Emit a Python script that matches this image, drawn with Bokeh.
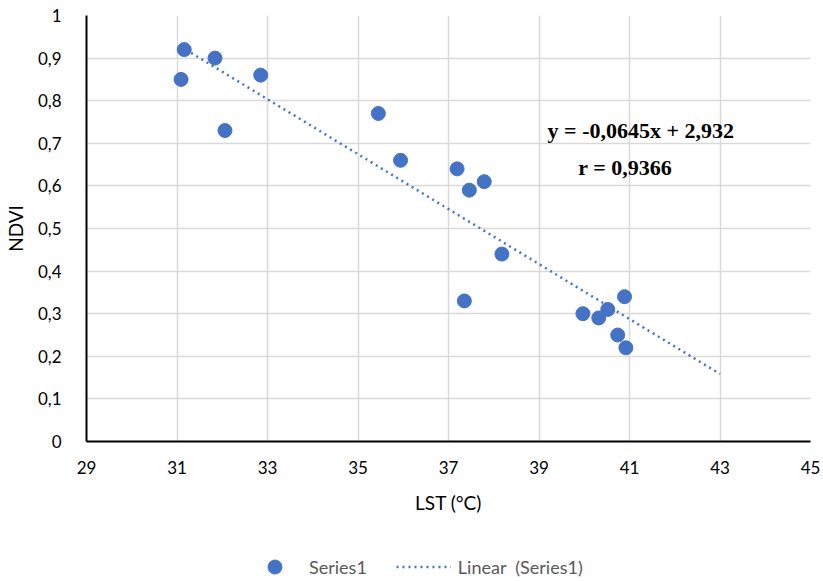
from bokeh.plotting import figure
from bokeh.layouts import column
from bokeh.models import (Legend, LegendItem, Label, FixedTicker,
                          CustomJSTickFormatter, Range1d)
from bokeh.embed import file_html
from bokeh.resources import INLINE

# ---- data ----
lst = [31.09, 31.16, 31.84, 32.06, 32.85, 35.45, 35.94, 37.19, 37.46, 37.79,
       38.18, 37.35, 39.97, 40.32, 40.52, 40.89, 40.74, 40.92]
ndvi = [0.85, 0.92, 0.90, 0.73, 0.86, 0.77, 0.66, 0.64, 0.59, 0.61,
        0.44, 0.33, 0.30, 0.29, 0.31, 0.34, 0.25, 0.22]
slope = -0.0645
intercept = 2.932
trend_x = [31.2, 43.0]
trend_y = [slope * x + intercept for x in trend_x]
x_ticks = [29, 31, 33, 35, 37, 39, 41, 43, 45]
y_ticks = [0, 0.1, 0.2, 0.3, 0.4, 0.5, 0.6, 0.7, 0.8, 0.9, 1.0]
eq_text = "y = -0,0645x + 2,932"
r_text = "r = 0,9366"
series_name = "Series1"
trend_name = "Linear \u00a0(Series1)"

BLUE = "#4472C4"
FONT = "Lato"
W = 820

p = figure(width=W, height=530, x_range=Range1d(29, 45), y_range=Range1d(0, 1),
           output_backend="svg", toolbar_location=None,
           min_border_left=86, min_border_right=W - 810, min_border_top=15,
           min_border_bottom=89)
p.outline_line_color = None
p.background_fill_color = "white"
p.border_fill_color = "white"

p.xaxis.ticker = FixedTicker(ticks=x_ticks)
p.yaxis.ticker = FixedTicker(ticks=y_ticks)
p.xgrid.ticker = FixedTicker(ticks=x_ticks)
p.ygrid.ticker = FixedTicker(ticks=y_ticks)
p.yaxis.formatter = CustomJSTickFormatter(code="""
    if (Math.abs(tick - Math.round(tick)) < 1e-9) return Math.round(tick).toString();
    return tick.toFixed(1).replace('.', ',');
""")

for g in (p.xgrid, p.ygrid):
    g.grid_line_color = "#d9d9d9"
    g.grid_line_width = 1.5

for ax in (p.xaxis, p.yaxis):
    ax.major_tick_line_color = None
    ax.minor_tick_line_color = None
    ax.axis_line_color = "black"
    ax.axis_line_width = 2
    ax.major_label_text_font = FONT
    ax.major_label_text_font_size = "17px"
    ax.major_label_text_color = "black"
    ax.axis_label_text_font = FONT
    ax.axis_label_text_font_size = "19px"
    ax.axis_label_text_font_style = "normal"
    ax.axis_label_text_color = "black"

p.xaxis.axis_label = "LST (°C)"
p.yaxis.axis_label = "NDVI"
p.xaxis.major_label_standoff = 13
p.xaxis.axis_label_standoff = 14
p.yaxis.major_label_standoff = 19
p.yaxis.axis_label_standoff = 8

ln = p.line(trend_x, trend_y, line_color=BLUE, line_width=2.5, line_dash="2 4")
sc = p.scatter(lst, ndvi, size=14, fill_color=BLUE, line_color=BLUE)

p.add_layout(Label(x=39.19, y=0.730, text=eq_text, text_font="Liberation Serif",
                   text_font_style="bold", text_font_size="22px",
                   text_baseline="middle", text_color="black"))
p.add_layout(Label(x=39.87, y=0.643, text=r_text, text_font="Liberation Serif",
                   text_font_style="bold", text_font_size="22px",
                   text_baseline="middle", text_color="black"))

# ---- legend strip (its renderers sit outside its visible range) ----
lf = figure(width=W, height=48, output_backend="svg", toolbar_location=None,
            x_axis_type=None, y_axis_type=None, min_border=0,
            x_range=Range1d(0, 1), y_range=Range1d(0, 1))
lf.outline_line_color = None
lf.grid.visible = False
lf_sc = lf.scatter(lst[:1], ndvi[:1], size=14, fill_color=BLUE, line_color=BLUE)
lf_ln = lf.line(trend_x, trend_y, line_color=BLUE, line_width=2.5, line_dash="2 4")

legend = Legend(items=[LegendItem(label=series_name, renderers=[lf_sc]),
                       LegendItem(label=trend_name, renderers=[lf_ln])],
                orientation="horizontal", location=(161, -6),
                glyph_width=55, glyph_height=35, label_standoff=7, spacing=29,
                border_line_color=None, background_fill_alpha=0,
                label_text_font=FONT, label_text_font_size="18px",
                label_text_color="#595959", margin=0, padding=0)
lf.add_layout(legend)

open("out.html", "w").write(file_html(column(p, lf, spacing=0), INLINE))
